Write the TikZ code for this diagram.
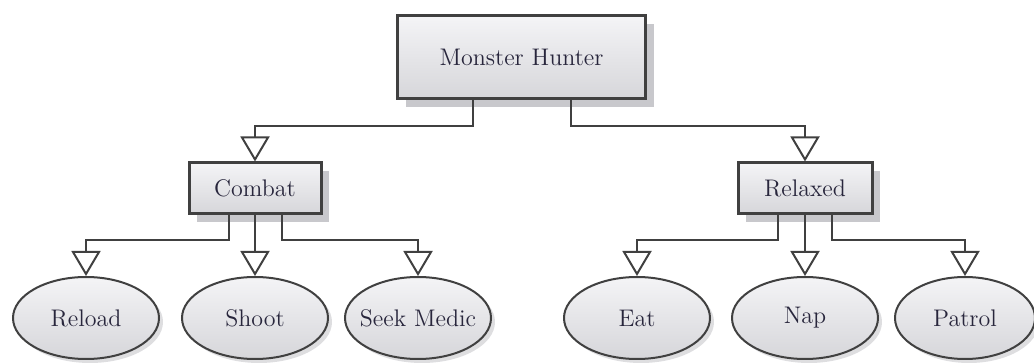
\documentclass[tikz,border=0pt]{standalone}
\definecolor{LineColor}{RGB}{64,64,64}
\definecolor{TextColor}{RGB}{40,38,60}
\definecolor{ShadowColor}{RGB}{200,200,204}
\definecolor{TopColor}{RGB}{244,244,246}
\definecolor{BottomColor}{RGB}{214,214,218}
\usetikzlibrary{positioning, arrows.meta, shapes.geometric, shadows}
\tikzstyle{link} = [line width=1pt, LineColor, -{Triangle[open, width=14.5pt, length=12.5pt, line width=1pt]}]
\tikzset{
  statebox/.style={rectangle, draw=LineColor, line width=1.5pt, top color=TopColor, bottom color=BottomColor,
    text=TextColor, font=\fontsize{12}{14}\selectfont,
    drop shadow={shadow xshift=4pt, shadow yshift=-4pt, fill=ShadowColor, opacity=1}},
  action/.style={ellipse, draw=LineColor, line width=1pt, top color=TopColor, bottom color=BottomColor,
    text=TextColor, font=\fontsize{12}{14}\selectfont, minimum width=73pt, minimum height=41pt,
    inner xsep=-4pt, inner ysep=0pt,
    drop shadow={shadow xshift=2pt, shadow yshift=-2pt, fill=ShadowColor, opacity=0.6}}
}
\begin{document}
\begin{tikzpicture}[x=0.5pt, y=-0.5pt]
  \useasboundingbox (0,0) rectangle (1034,363);

  % Root
  \node[statebox, minimum width=124pt, minimum height=41.5pt] (hunter) at (521.5,57.5) {Monster Hunter};

  % Sub-states
  \node[statebox, minimum width=66pt, minimum height=25.5pt] (combat) at (255,188.5) {Combat};
  \node[statebox, minimum width=67pt, minimum height=25.5pt] (relaxed) at (805,188.5) {Relaxed};

  % Actions
  \node[action] (reload) at (86,318) {Reload};
  \node[action] (shoot) at (255,318) {Shoot};
  \node[action] (medic) at (418,318) {Seek Medic};
  \node[action] (eat) at (637,318) {Eat};
  \node[action] (nap) at (805,318) {Nap};
  \node[action, minimum width=70pt] (patrol) at (965,318) {Patrol};

  % Root to sub-states
  \draw[link] ([xshift=-24.5pt]hunter.south) -- ++(0,26) -| (combat.north);
  \draw[link] ([xshift=24.5pt]hunter.south) -- ++(0,26) -| (relaxed.north);

  % Combat to actions
  \draw[link] ([xshift=-13pt]combat.south) -- ++(0,25) -| (reload.north);
  \draw[link] (combat.south) -- (shoot.north);
  \draw[link] ([xshift=13.5pt]combat.south) -- ++(0,25) -| (medic.north);

  % Relaxed to actions
  \draw[link] ([xshift=-13.5pt]relaxed.south) -- ++(0,25) -| (eat.north);
  \draw[link] (relaxed.south) -- (nap.north);
  \draw[link] ([xshift=13.5pt]relaxed.south) -- ++(0,25) -| (patrol.north);
\end{tikzpicture}
\end{document}
